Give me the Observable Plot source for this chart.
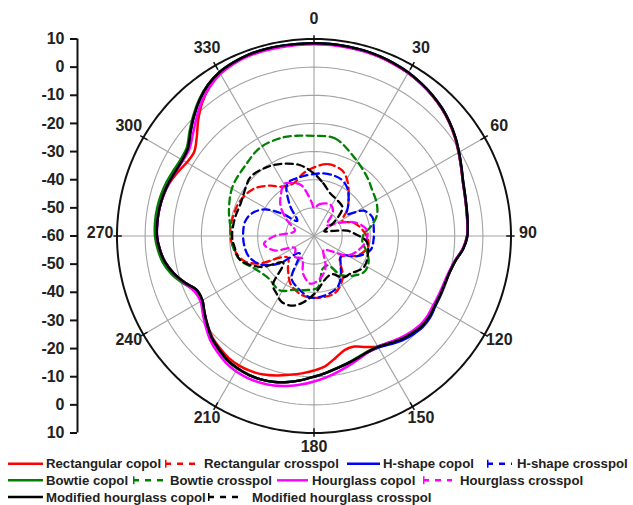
<!DOCTYPE html>
<html>
<head>
<meta charset="utf-8">
<script src="https://cdn.jsdelivr.net/npm/d3@7"></script>
<script src="https://cdn.jsdelivr.net/npm/@observablehq/plot@0.6"></script>
<style>
html,body{margin:0;padding:0;background:#fff;}
#wrap{width:633px;}
#wrap svg{display:block;}
</style>
</head>
<body>
<div id="wrap"></div>
<script>
// ---------- tick labels ----------
const angleTicks = [0, 30, 60, 90, 120, 150, 180, 210, 240, 270, 300, 330];
const dbAxisLabels = [10, 0, -10, -20, -30, -40, -50, -60, -50, -40, -30, -20, -10, 0, 10];
const ringLevels = [-50, -40, -30, -20, -10, 0];
const outerLevel = 10;
const centerLevel = -60;

// ---------- series ----------
const seriesNames = ["Rectangular copol", "Rectangular crosspol", "H-shape copol", "H-shape crosspol",
  "Bowtie copol", "Bowtie crosspol", "Hourglass copol", "Hourglass crosspol",
  "Modified hourglass copol", "Modified hourglass crosspol"];
const seriesColors = ["#ff0000", "#ff0000", "#0000ff", "#0000ff", "#008000", "#008000",
  "#ff00ff", "#ff00ff", "#000000", "#000000"];
const seriesDashed = [false, true, false, true, false, true, false, true, false, true];

// co-polar patterns (dB), angles in degrees
const copolAngles = [0,5,10,15,20,25,30,35,40,45,50,55,60,65,70,75,80,85,90,95,100,105,110,115,120,125,130,135,140,145,150,155,160,165,170,175,180,185,190,195,200,205,210,215,220,225,230,235,240,245,250,255,260,265,270,275,280,285,290,295,300,305,310,315,320,325,330,335,340,345,350,355];
const rectangularCopol = [8.3,8.3,8.2,8.1,7.8,7.4,6.9,6.1,5.2,4.1,2.7,1.1,-0.7,-2.3,-3.7,-4.5,-5.0,-5.3,-5.6,-6.9,-9.0,-10.1,-10.5,-10.5,-10.4,-10.0,-10.1,-11.0,-12.0,-13.2,-14.6,-16.5,-18.2,-18.0,-16.0,-13.6,-12.2,-11.0,-9.9,-8.7,-7.6,-7.0,-6.8,-7.1,-8.0,-9.0,-10.7,-12.5,-14.2,-14.2,-11.3,-8.5,-6.3,-5.0,-4.2,-4.1,-4.2,-4.6,-5.3,-6.5,-7.8,-8.0,-5.6,-1.8,1.8,4.7,6.7,7.8,8.3,8.4,8.4,8.3];
const hShapeCopol = [8.5,8.5,8.4,8.3,8.0,7.6,7.1,6.3,5.4,4.3,2.9,1.3,-0.5,-2.2,-3.6,-4.4,-4.9,-5.2,-5.5,-6.8,-9.0,-10.1,-10.5,-10.4,-10.2,-9.6,-9.6,-10.4,-11.5,-13.0,-14.2,-14.5,-14.0,-13.2,-12.3,-11.2,-10.0,-8.6,-7.3,-6.3,-5.7,-5.5,-5.7,-6.3,-7.5,-8.7,-10.6,-12.5,-14.2,-14.2,-11.3,-8.5,-6.3,-5.0,-4.2,-4.1,-4.2,-4.5,-5.0,-5.7,-6.0,-5.4,-2.7,0.3,3.2,5.6,7.2,8.0,8.5,8.6,8.6,8.5];
const bowtieCopol = [8.4,8.4,8.3,8.2,7.9,7.5,7.0,6.2,5.3,4.2,2.8,1.2,-0.6,-2.3,-3.7,-4.5,-5.0,-5.3,-5.6,-6.9,-9.1,-10.2,-10.6,-10.6,-10.5,-10.1,-10.2,-11.1,-12.2,-13.6,-14.7,-14.8,-14.2,-13.3,-12.4,-11.2,-10.0,-8.6,-7.3,-6.3,-5.7,-5.5,-5.6,-6.1,-7.2,-8.3,-10.1,-12.0,-13.7,-13.8,-10.6,-7.6,-5.5,-4.3,-3.5,-3.3,-3.4,-3.7,-4.2,-4.9,-5.4,-4.9,-2.3,0.6,3.4,5.7,7.2,8.0,8.4,8.5,8.5,8.4];
const hourglassCopol = [8.1,8.1,8.0,7.9,7.7,7.3,6.9,6.2,5.3,4.2,2.8,1.2,-0.6,-2.3,-3.7,-4.5,-5.0,-5.3,-5.6,-7.0,-9.2,-10.4,-10.9,-11.0,-11.0,-10.7,-10.8,-11.6,-12.6,-13.8,-14.6,-14.4,-13.5,-12.3,-11.0,-9.6,-8.3,-7.0,-5.9,-5.0,-4.5,-4.3,-4.5,-5.2,-6.4,-7.8,-9.8,-11.8,-13.5,-13.2,-11.0,-8.4,-6.3,-5.0,-4.2,-4.1,-4.2,-4.6,-5.1,-5.8,-6.3,-6.0,-3.8,-0.9,2.2,4.6,6.5,7.5,8.0,8.1,8.1,8.1];
const modHourglassCopol = [8.5,8.5,8.4,8.3,8.0,7.6,7.1,6.3,5.4,4.3,2.9,1.3,-0.5,-2.2,-3.6,-4.4,-4.9,-5.2,-5.5,-6.8,-9.0,-10.1,-10.5,-10.5,-10.4,-10.0,-10.1,-11.0,-12.0,-13.4,-14.5,-14.6,-14.0,-13.2,-12.3,-11.2,-10.0,-8.6,-7.3,-6.3,-5.7,-5.5,-5.7,-6.3,-7.5,-8.7,-10.6,-12.5,-14.2,-14.2,-11.3,-8.5,-6.3,-5.0,-4.2,-4.1,-4.2,-4.5,-5.0,-5.7,-6.0,-5.4,-2.7,0.3,3.2,5.6,7.2,8.0,8.5,8.6,8.6,8.5];

// cross-polar patterns (dB)
const rectangularCrossAngles = [0,11,23,31,42,52,62,72,81,92,102,114,129,145,159,171,183,192,206,218,231,244,251,262,274,286,296,308,319,326,338,350];
const rectangularCross = [-35.6,-34,-34.6,-37,-41.6,-45,-48.6,-45,-43,-41,-40.5,-43,-47.9,-42.1,-38.5,-38,-38.1,-38.6,-41,-45,-47.9,-37.6,-33.4,-31,-30.2,-30.5,-31,-32.8,-36.3,-38.9,-40,-37.5];
const hShapeCrossAngles = [0,9,18,27,35,42,50,56,63,72,80,94,104,115,126,138,147,156,170,183,198,208,220,232,242,252,262,272,282,290,298,305,312,322,333,347];
const hShapeCross = [-38,-37.5,-37.4,-37.8,-39.3,-41.6,-44.3,-46,-40.2,-38.2,-38.5,-38.8,-39.3,-43,-48,-45.8,-42.5,-39.9,-38.5,-38.1,-40.8,-43,-52,-44,-38.5,-35.8,-35,-34.8,-35,-36.5,-39.9,-46,-52,-46,-39.1,-38.5];
const bowtieCrossAngles = [0,12,27,42,52,62,72,81,88,97,108,117,126,135,145,155,165,176,190,200,212,228,241,252,262,272,287,301,316,329,343,352];
const bowtieCross = [-24.4,-24.5,-28.6,-31.8,-33.7,-34.8,-36.5,-39.7,-42.3,-42.7,-40,-38.3,-38.1,-40.1,-43,-48.5,-48,-41.6,-40.5,-39.7,-37.2,-37.9,-36,-32.4,-31,-30.6,-28.4,-26.2,-25,-23.2,-23.3,-24];
const hourglassCrossAngles = [0,10,27,38,50,62,72,84,96,108,120,132,145,160,172,184,196,208,222,238,250,261,270,285,300,312,322,330,337,346,356];
const hourglassCross = [-50,-48.5,-47.4,-49,-54,-50,-44.5,-41,-41.5,-43.5,-46.2,-52,-54,-48,-44.7,-43,-46,-51,-50,-52,-45,-42,-46,-53,-49,-44,-41,-38.6,-39.6,-41.4,-48];
const modHourglassCrossAngles = [0,10,21,33,45,55,65,75,81,88,96,111,122,136,145,155,166,178,189,197,206,213,220,229,240,252,262,270,283,294,305,313,326,337,349];
const modHourglassCross = [-37.8,-41,-43.8,-44.8,-45.7,-51,-56,-53,-48,-45,-41.2,-39.6,-39.1,-41.4,-42,-45,-44,-40,-36.2,-34.1,-33.9,-35.6,-37.3,-45.5,-38,-32.4,-31.5,-30.9,-31.2,-31.5,-30.3,-29.2,-30.4,-32.1,-34.4];

const seriesAngles = [copolAngles, rectangularCrossAngles, copolAngles, hShapeCrossAngles, copolAngles,
  bowtieCrossAngles, copolAngles, hourglassCrossAngles, copolAngles, modHourglassCrossAngles];
const seriesValues = [rectangularCopol, rectangularCross, hShapeCopol, hShapeCross, bowtieCopol,
  bowtieCross, hourglassCopol, hourglassCross, modHourglassCopol, modHourglassCross];

// ---------- polar -> cartesian (data units, radius = dB - center) ----------
const R = outerLevel - centerLevel;
const rad = a => a * Math.PI / 180;
function toXY(angle, db) {
  const r = Math.max(0, db - centerLevel);
  return {x: r * Math.sin(rad(angle)), y: r * Math.cos(rad(angle))};
}

const seriesRows = seriesNames.map((name, i) =>
  seriesAngles[i].map((a, k) => ({series: name, ...toXY(a, seriesValues[i][k])})));

// grid geometry
const ringRows = [];
for (const lv of ringLevels) for (let a = 0; a < 360; a += 2) ringRows.push({level: lv, ...toXY(a, lv)});
const outerRows = [];
for (let a = 0; a < 360; a += 1) outerRows.push(toXY(a, outerLevel));
const spokeRows = angleTicks.map(a => { const p = toXY(a, outerLevel); return {x1: 0, y1: 0, x2: p.x, y2: p.y}; });
const tickRows = angleTicks.map(a => { const p = toXY(a, outerLevel - 1.7), q = toXY(a, outerLevel + 1.3); return {x1: p.x, y1: p.y, x2: q.x, y2: q.y}; });
const angleLabelRows = angleTicks.map(a => ({label: String(a), ...toXY(a, outerLevel + 6)}));
const axisPositions = dbAxisLabels.map((v, i) => (i <= dbAxisLabels.indexOf(centerLevel) ? 1 : -1) * (v - centerLevel));

const xDomain = [-84.03, R];
const font = "'Liberation Sans', Arial, Helvetica, sans-serif";

const chart = Plot.plot({
  width: 633,
  height: 455,
  marginLeft: 77,
  marginRight: 122.5,
  marginTop: 38.5,
  marginBottom: 22.5,
  x: {domain: xDomain, axis: null},
  y: {domain: [-R, R], axis: null},
  style: {fontFamily: font, background: "#fff", overflow: "visible"},
  marks: [
    Plot.line(ringRows, {x: "x", y: "y", z: "level", stroke: "#a3a3a3", strokeWidth: 1.1, curve: "linear-closed"}),
    Plot.link(spokeRows, {x1: "x1", y1: "y1", x2: "x2", y2: "y2", stroke: "#a3a3a3", strokeWidth: 1.1}),
    ...seriesRows.map((rows, i) => Plot.line(rows, {
      x: "x", y: "y", stroke: seriesColors[i],
      strokeWidth: seriesDashed[i] ? 2.3 : 2.5,
      strokeDasharray: seriesDashed[i] ? "7,4.5" : null,
      curve: "catmull-rom-closed"
    })),
    Plot.line(outerRows, {x: "x", y: "y", stroke: "#111", strokeWidth: 2, curve: "linear-closed"}),
    Plot.link(tickRows, {x1: "x1", y1: "y1", x2: "x2", y2: "y2", stroke: "#111", strokeWidth: 1.5}),
    Plot.text(angleLabelRows, {x: "x", y: "y", text: "label", dy: -3, fontSize: 16, fontWeight: "bold", fill: "#222"}),
    Plot.ruleX([xDomain[0]], {y1: -R, y2: R, stroke: "#111", strokeWidth: 2}),
    Plot.axisY(axisPositions, {
      anchor: "left", tickSize: 7, tickPadding: 6, strokeWidth: 2, stroke: "#111", fill: "#222",
      fontSize: 16, fontWeight: "bold",
      tickFormat: d => String(Math.abs(d) + centerLevel)
    })
  ]
});
document.getElementById("wrap").appendChild(chart);

// ---------- legend ----------
const legendLayout = [ // row, sample start, sample end, text x (pixels)
  [0, 8, 43, 46], [0, 165, 197, 204], [0, 347, 380, 383], [0, 487, 512, 517],
  [1, 8, 43, 46], [1, 133, 163, 170], [1, 277, 308, 312], [1, 423, 452, 460],
  [2, 8, 43, 46], [2, 208, 243, 252]
];
const legendRowY = [8.7, 25.3, 42];
const lg = d3.create("svg").attr("width", 633).attr("height", 50)
  .style("font-family", font).style("overflow", "visible");
seriesNames.forEach((name, i) => {
  const [row, s0, s1, tx] = legendLayout[i];
  const y = legendRowY[row];
  const g = lg.append("g");
  if (seriesDashed[i]) {
    g.append("line").attr("x1", s0 + 0.75).attr("x2", s0 + 0.75).attr("y1", y - 4).attr("y2", y + 4)
      .attr("stroke", seriesColors[i]).attr("stroke-width", 1.5);
    g.append("line").attr("x1", s0).attr("x2", s1).attr("y1", y).attr("y2", y)
      .attr("stroke", seriesColors[i]).attr("stroke-width", 2.4).attr("stroke-dasharray", "6,6");
  } else {
    g.append("line").attr("x1", s0).attr("x2", s1).attr("y1", y).attr("y2", y)
      .attr("stroke", seriesColors[i]).attr("stroke-width", 2.4);
  }
  g.append("text").attr("x", tx).attr("y", y).attr("dy", "0.35em")
    .attr("font-size", 13.2).attr("font-weight", "bold").attr("fill", "#222").text(name);
});
document.getElementById("wrap").appendChild(lg.node());
</script>
</body>
</html>
